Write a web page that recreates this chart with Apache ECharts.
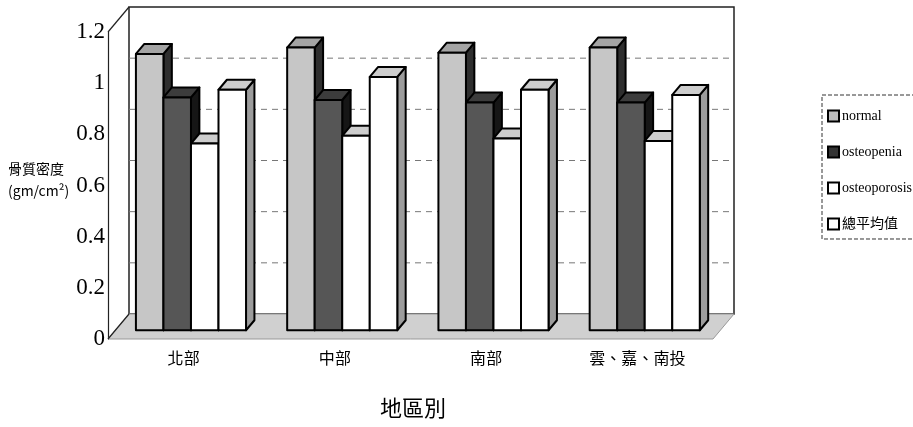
<!DOCTYPE html>
<html>
<head>
<meta charset="utf-8">
<script src="https://cdn.jsdelivr.net/npm/echarts@6/dist/echarts.min.js"></script>
<style>
  html, body { margin: 0; padding: 0; background: #fff; }
  #main { width: 913px; height: 427px; }
</style>
</head>
<body>
<div id="main"></div>
<script>
// 地區別
var regions = ['北部', '中部', '南部', '雲、嘉、南投']
var seriesNames = ['normal', 'osteopenia', 'osteoporosis', '總平均值']
// 骨質密度 (gm/cm2)
var normalVals = [1.08, 1.105, 1.085, 1.105]
var osteopeniaVals = [0.91, 0.90, 0.89, 0.89]
var osteoporosisVals = [0.73, 0.76, 0.75, 0.74]
var avgVals = [0.94, 0.99, 0.94, 0.92]
var yTicks = [0, 0.2, 0.4, 0.6, 0.8, 1, 1.2]

// 3D look: depth of the whole box, bar plane and bar thickness
var DEPTH = [21, -25]
var BAR_PLANE = 0.35
var BAR_DEPTH = 0.4

var faces = [
  { front: '#c6c6c6', top: '#a4a4a4', side: '#2e2e2e' },
  { front: '#565656', top: '#3c3c3c', side: '#161616' },
  { front: '#ffffff', top: '#cdcdcd', side: '#9c9c9c' },
  { front: '#ffffff', top: '#cdcdcd', side: '#9c9c9c' }
]
var legendColors = ['#bdbdbd', '#333333', '#ffffff', '#ffffff']

function barRenderer (idx) {
  return function (params, api) {
    var cat = api.value(0)
    var base = api.coord([cat, 0])
    var top = api.coord([cat, api.value(1)])
    var band = api.size([1, 0])[0]
    var bw = band * 0.182
    var sx = DEPTH[0] * BAR_PLANE
    var sy = DEPTH[1] * BAR_PLANE
    var dx = DEPTH[0] * BAR_DEPTH
    var dy = DEPTH[1] * BAR_DEPTH
    var x0 = base[0] - 2 * bw + idx * bw + sx
    var x1 = x0 + bw
    var ty = top[1] + sy
    var by = base[1] + sy
    var st = { stroke: '#000', lineWidth: 2, lineJoin: 'round' }
    var c = faces[idx]
    return {
      type: 'group',
      children: [
        {
          type: 'polygon',
          shape: { points: [[x1, ty], [x1 + dx, ty + dy], [x1 + dx, by + dy], [x1, by]] },
          style: Object.assign({ fill: c.side }, st)
        },
        {
          type: 'polygon',
          shape: { points: [[x0, ty], [x0 + dx, ty + dy], [x1 + dx, ty + dy], [x1, ty]] },
          style: Object.assign({ fill: c.top }, st)
        },
        {
          type: 'rect',
          shape: { x: x0, y: ty, width: bw, height: by - ty },
          style: Object.assign({ fill: c.front }, st)
        }
      ]
    }
  }
}

// back wall, floor and left edges
function boxRenderer (params, api) {
  var cs = params.coordSys
  var dx = DEPTH[0]
  var dy = DEPTH[1]
  var left = cs.x
  var right = cs.x + cs.width
  var top = cs.y
  var bottom = cs.y + cs.height
  var children = [
    {
      type: 'rect',
      shape: { x: left + dx, y: top + dy, width: cs.width, height: cs.height },
      style: { fill: '#fff', stroke: '#222', lineWidth: 1.5 }
    }
  ]
  yTicks.slice(1, -1).forEach(function (v) {
    var p = api.coord([0, v])
    children.push({
      type: 'line',
      shape: { x1: left + dx, y1: p[1] + dy, x2: right + dx, y2: p[1] + dy },
      style: { stroke: '#777', lineWidth: 1, lineDash: [6, 5] }
    })
  })
  children.push({
    type: 'polygon',
    shape: { points: [[left, bottom], [right, bottom], [right + dx, bottom + dy], [left + dx, bottom + dy]] },
    style: { fill: '#d0d0d0', stroke: '#999', lineWidth: 1 }
  })
  children.push({
    type: 'line',
    shape: { x1: left, y1: top, x2: left + dx, y2: top + dy },
    style: { stroke: '#222', lineWidth: 1.2 }
  })
  children.push({
    type: 'line',
    shape: { x1: left, y1: bottom, x2: left + dx, y2: bottom + dy },
    style: { stroke: '#222', lineWidth: 1.2 }
  })
  return { type: 'group', children: children }
}

function toData (vals) {
  return vals.map(function (v, i) { return [i, v] })
}

var allVals = [normalVals, osteopeniaVals, osteoporosisVals, avgVals]
var series = [
  {
    name: 'box',
    type: 'custom',
    renderItem: boxRenderer,
    data: [[0, 0]],
    silent: true,
    z: 1
  }
]
seriesNames.forEach(function (name, i) {
  series.push({
    name: name,
    type: 'custom',
    renderItem: barRenderer(i),
    itemStyle: { color: legendColors[i] },
    encode: { x: 0, y: 1 },
    data: toData(allVals[i]),
    z: 2 + i
  })
})

var cjk = '"Noto Sans CJK TC", sans-serif'

var option = {
  backgroundColor: '#fff',
  animation: false,
  textStyle: { fontFamily: '"Noto Sans CJK TC", "Liberation Serif", serif' },
  grid: {
    left: 108,
    top: 32,
    width: 605,
    height: 307,
    containLabel: false,
    outerBoundsMode: 'none'
  },
  // axis titles
  graphic: [
    {
      type: 'text',
      left: 8,
      top: 158,
      style: {
        text: '骨質密度\n(gm/cm²)',
        font: '14px ' + cjk,
        lineHeight: 22,
        fill: '#000',
        align: 'center'
      }
    },
    {
      type: 'text',
      left: 380,
      top: 397,
      style: {
        text: '地區別',
        font: '22px ' + cjk,
        fill: '#000'
      }
    }
  ],
  legend: {
    data: seriesNames,
    orient: 'vertical',
    left: 822,
    top: 95,
    width: 100,
    padding: [14, 30, 8, 5],
    itemGap: 22,
    itemWidth: 11,
    itemHeight: 11,
    icon: 'rect',
    borderColor: '#333',
    borderWidth: 1,
    borderType: 'dashed',
    itemStyle: { borderColor: '#000', borderWidth: 2 },
    textStyle: {
      fontFamily: '"Liberation Serif", "Noto Sans CJK TC", serif',
      fontSize: 14,
      color: '#000',
      padding: [0, 0, 0, -2]
    }
  },
  xAxis: {
    type: 'category',
    data: regions,
    boundaryGap: true,
    axisLine: { show: false },
    axisTick: { show: false },
    axisLabel: {
      color: '#000',
      fontSize: 16,
      margin: 11,
      fontFamily: cjk
    }
  },
  yAxis: {
    type: 'value',
    min: 0,
    max: 1.2,
    interval: 0.2,
    axisLine: { show: true, lineStyle: { color: '#222', width: 1.2 } },
    axisTick: { show: false },
    splitLine: { show: false },
    axisLabel: {
      color: '#000',
      fontSize: 23,
      margin: 3,
      fontFamily: '"Liberation Serif", serif'
    }
  },
  series: series
}

var chart = echarts.init(document.getElementById('main'))
chart.setOption(option)
</script>
</body>
</html>
